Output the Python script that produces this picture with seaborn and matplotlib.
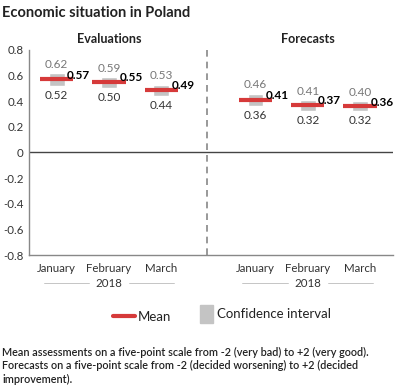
import pandas as pd
import matplotlib
matplotlib.use("Agg")
import matplotlib.pyplot as plt
import seaborn as sns

sns.set_style("white")
plt.rcParams["font.family"] = ["Lato", "DejaVu Sans"]

# data
months = ["January", "February", "March"]
groups = ["Evaluations", "Forecasts"]
year = "2018"
eval_mean = [0.57, 0.55, 0.49]
eval_low = [0.52, 0.50, 0.44]
eval_high = [0.62, 0.59, 0.53]
fc_mean = [0.41, 0.37, 0.36]
fc_low = [0.36, 0.32, 0.32]
fc_high = [0.46, 0.41, 0.40]
y_ticks = [0.8, 0.6, 0.4, 0.2, 0, -0.2, -0.4, -0.6, -0.8]

df = pd.DataFrame({
    "group": [groups[0]] * 3 + [groups[1]] * 3,
    "month": months * 2,
    "mean": eval_mean + fc_mean,
    "low": eval_low + fc_low,
    "high": eval_high + fc_high,
})
df["pos"] = [0, 1, 2, 3.8, 4.8, 5.8]

RED = "#d63a3a"
GREY = "#c4c4c4"

fig = plt.figure(figsize=(4, 3.9), dpi=100)
ax = fig.add_axes([0.0725, 0.346, 0.91, 0.526])

# confidence interval boxes
ax.bar(df["pos"], df["high"] - df["low"], bottom=df["low"], width=0.3,
       color=GREY, zorder=2)
# mean lines
ax.hlines(df["mean"], df["pos"] - 0.32, df["pos"] + 0.32, color=RED,
          linewidth=3, zorder=3)

for _, r in df.iterrows():
    ax.text(r["pos"], r["high"] + 0.025, f"{r['high']:.2f}", ha="center",
            va="bottom", fontsize=8.5, color="#777777")
    ax.text(r["pos"], r["low"] - 0.03, f"{r['low']:.2f}", ha="center",
            va="top", fontsize=8.5, color="#333333")
    ax.text(r["pos"] + 0.2, r["mean"] - 0.01, f"{r['mean']:.2f}", ha="left",
            va="bottom", fontsize=8.5, color="black", fontweight="bold", zorder=4)

ax.axhline(0, color="#444444", linewidth=1, zorder=1)
ax.axvline(2.88, color="#888888", linewidth=1.2, linestyle=(0, (4, 3)), zorder=1)

ax.set_xlim(-0.53, 6.43)
ax.set_ylim(-0.8, 0.8)
ax.set_yticks(y_ticks)
ax.set_yticklabels(["0" if t == 0 else f"{t:.1f}" for t in y_ticks],
                   fontsize=8.3, color="#333333")
ax.set_xticks(df["pos"])
ax.set_xticklabels(df["month"], fontsize=8.3, color="#333333")
ax.tick_params(axis="both", length=0, pad=4)
ax.tick_params(axis="x", pad=6)
for s in ["top", "right"]:
    ax.spines[s].set_visible(False)
for s in ["left", "bottom"]:
    ax.spines[s].set_color("#888888")
    ax.spines[s].set_linewidth(1)

# group titles and year labels
for g, c in zip(groups, [1, 4.8]):
    ax.text(c, 0.885, g, ha="center", va="center", fontsize=9,
            fontweight="bold", color="#222222")
    ax.text(c, -1.02, year, ha="center", va="center", fontsize=8.3,
            color="#333333", clip_on=False)
    ax.plot([c - 1.25, c - 0.38], [-1.02, -1.02], color="#bbbbbb",
            linewidth=0.6, clip_on=False)
    ax.plot([c + 0.38, c + 1.25], [-1.02, -1.02], color="#bbbbbb",
            linewidth=0.6, clip_on=False)

fig.text(0.005, 0.966, "Economic situation in Poland", fontsize=10.5,
         fontweight="bold", color="#222222", va="center")

# legend drawn by hand
fig.add_artist(plt.Line2D([0.283, 0.338], [0.19, 0.19], color=RED,
                          linewidth=3, solid_capstyle="round"))
fig.text(0.345, 0.186, "Mean", fontsize=9.5, va="center", color="#222222")
fig.add_artist(plt.Rectangle((0.50, 0.172), 0.033, 0.047, color=GREY))
fig.text(0.543, 0.195, "Confidence interval", fontsize=9.5, va="center",
         color="#222222")

notes = ("Mean assessments on a five-point scale from -2 (very bad) to +2 (very good).\n"
         "Forecasts on a five-point scale from -2 (decided worsening) to +2 (decided\n"
         "improvement).")
fig.text(0.005, 0.062, notes, fontsize=7.8, fontweight="semibold",
         color="#222222", va="center", linespacing=1.3)

fig.savefig("out.png", dpi=100)
